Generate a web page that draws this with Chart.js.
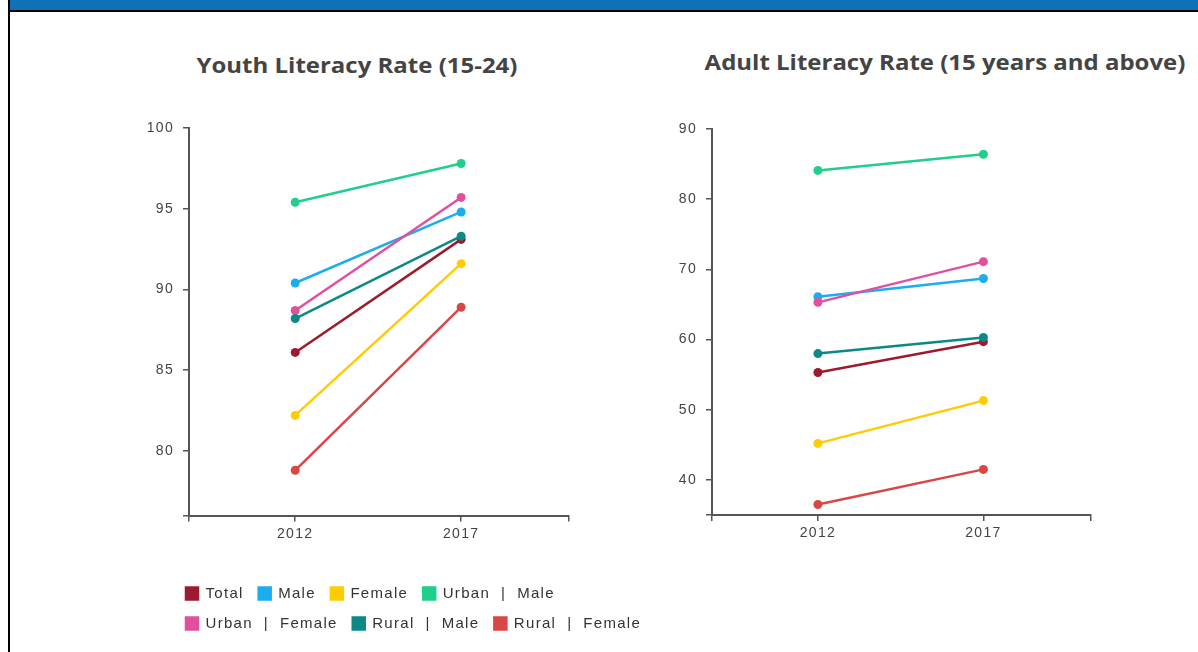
<!DOCTYPE html>
<html>
<head>
<meta charset="utf-8">
<script src="https://cdn.jsdelivr.net/npm/chart.js@4.4.1/dist/chart.umd.min.js"></script>
<style>
  body { margin: 0; background: #fff; width: 1198px; height: 652px; overflow: hidden; position: relative; font-family: 'Open Sans', sans-serif; }
  #band { position: absolute; left: 10px; top: 0; right: 0; height: 10px; background: #1071b7; border-bottom: 2px solid #000; }
  #edge { position: absolute; left: 8px; top: 0; bottom: 0; width: 2px; background: #000; }
  .title { position: absolute; font-weight: 700; font-size: 22px; line-height: 30px; color: #444; white-space: nowrap; transform: translateX(-50%) scaleX(1.09); }
  canvas { position: absolute; }
</style>
</head>
<body>
<div id="band"></div>
<div id="edge"></div>
<div class="title" style="left:357px; top:49px;">Youth Literacy Rate (15-24)</div>
<div class="title" style="left:945px; top:46px;">Adult Literacy Rate (15 years and above)</div>
<canvas id="youth" width="560" height="610" style="left:120px; top:30px;"></canvas>
<canvas id="adult" width="460" height="610" style="left:650px; top:30px;"></canvas>
<script>
// data
const years = [2012, 2017];
const seriesNames = ['Total', 'Male', 'Female', 'Urban  |  Male', 'Urban  |  Female', 'Rural  |  Male', 'Rural  |  Female'];
const seriesColors = ['#9c1b2e', '#1badee', '#ffcb05', '#1fcf8b', '#e0509f', '#0b8a85', '#da4646'];

// youth literacy (15-24)
const youthTotal = [86.1, 93.1];
const youthMale = [90.4, 94.8];
const youthFemale = [82.2, 91.6];
const youthUrbanMale = [95.4, 97.8];
const youthUrbanFemale = [88.7, 95.7];
const youthRuralMale = [88.2, 93.3];
const youthRuralFemale = [78.8, 88.9];
const youthTicks = [80, 85, 90, 95, 100];

// adult literacy (15+)
const adultTotal = [55.3, 59.7];
const adultMale = [66.1, 68.7];
const adultFemale = [45.2, 51.3];
const adultUrbanMale = [84.1, 86.4];
const adultUrbanFemale = [65.3, 71.1];
const adultRuralMale = [58.0, 60.3];
const adultRuralFemale = [36.5, 41.5];
const adultTicks = [40, 50, 60, 70, 80, 90];

const youthSeries = [youthTotal, youthMale, youthFemale, youthUrbanMale, youthUrbanFemale, youthRuralMale, youthRuralFemale];
const adultSeries = [adultTotal, adultMale, adultFemale, adultUrbanMale, adultUrbanFemale, adultRuralMale, adultRuralFemale];

// wide text like the original
const spacing = {
  id: 'spacing',
  beforeUpdate(chart) { chart.ctx.letterSpacing = '1.3px'; },
  beforeDraw(chart) { chart.ctx.letterSpacing = '1.3px'; }
};

// legend sits under the plot, starting a little left of the y axis
const legendShift = {
  id: 'legendShift',
  afterLayout(chart) {
    if (!chart.options.plugins.legend.display) return;
    chart.legend.left += 51;
    chart.legend.right += 51;
    chart.legend.top += 1;
    chart.legend.bottom += 1;
  }
};

const axisColor = '#555';
const tickFont = { family: "'Liberation Sans', Arial, sans-serif", size: 14 };

function buildDatasets(series) {
  return series.map((vals, i) => ({
    label: seriesNames[i],
    data: years.map((yr, j) => ({ x: yr, y: vals[j] })),
    borderColor: seriesColors[i],
    backgroundColor: seriesColors[i],
    borderWidth: 2.5,
    pointRadius: 4.5,
    pointHoverRadius: 4.5,
    pointBorderWidth: 0,
    order: series.length - i
  }));
}

function makeChart(id, series, yMin, yMax, yTicks, yWidth, padding, withLegend) {
  const scales = {
    x: {
      type: 'linear',
      min: 2008.8,
      max: 2020.25,
      afterBuildTicks: axis => { axis.ticks = [axis.min, ...years, axis.max].map(v => ({ value: v })); },
      afterFit: s => { s.height = 54.5; },
      ticks: {
        color: '#444', font: tickFont, padding: 4, maxRotation: 0, autoSkip: false,
        callback: v => years.includes(v) ? String(v) : ''
      },
      grid: { drawOnChartArea: false, drawTicks: true, tickLength: 6, color: axisColor, lineWidth: 1.5 },
      border: { color: axisColor, width: 2 }
    },
    y: {
      min: yMin,
      max: yMax,
      afterBuildTicks: axis => { axis.ticks = [axis.min, ...yTicks].map(v => ({ value: v })); },
      afterFit: s => { s.width = yWidth; },
      ticks: {
        color: '#444', font: tickFont, padding: 9, autoSkip: false,
        callback: v => yTicks.includes(v) ? String(v) : ''
      },
      grid: { drawOnChartArea: false, drawTicks: true, tickLength: 6, color: axisColor, lineWidth: 1.5 },
      border: { color: axisColor, width: 2 }
    }
  };
  if (withLegend) {
    // empty space on the right so the legend can run wider than the plot
    scales.spare = {
      position: 'right',
      afterFit: s => { s.width = 77; },
      ticks: { display: false },
      grid: { display: false },
      border: { display: false }
    };
  }
  return new Chart(document.getElementById(id), {
    type: 'line',
    data: { datasets: buildDatasets(series) },
    plugins: [spacing, legendShift],
    options: {
      responsive: false,
      animation: false,
      layout: { padding: padding },
      scales: scales,
      plugins: {
        tooltip: { enabled: false },
        legend: {
          display: withLegend,
          position: 'bottom',
          align: 'start',
          labels: {
            boxWidth: 12,
            boxHeight: 12,
            padding: 15,
            color: '#333',
            font: { family: "'Liberation Sans', Arial, sans-serif", size: 15 },
            sort: (a, b) => a.datasetIndex - b.datasetIndex
          }
        }
      }
    }
  });
}

makeChart('youth', youthSeries, 76, 100, youthTicks, 69, { left: 0, right: 34, top: 98, bottom: 0 }, true);
makeChart('adult', adultSeries, 35, 90, adultTicks, 62, { left: 0, right: 19, top: 99, bottom: 70.5 }, false);
</script>
</body>
</html>
